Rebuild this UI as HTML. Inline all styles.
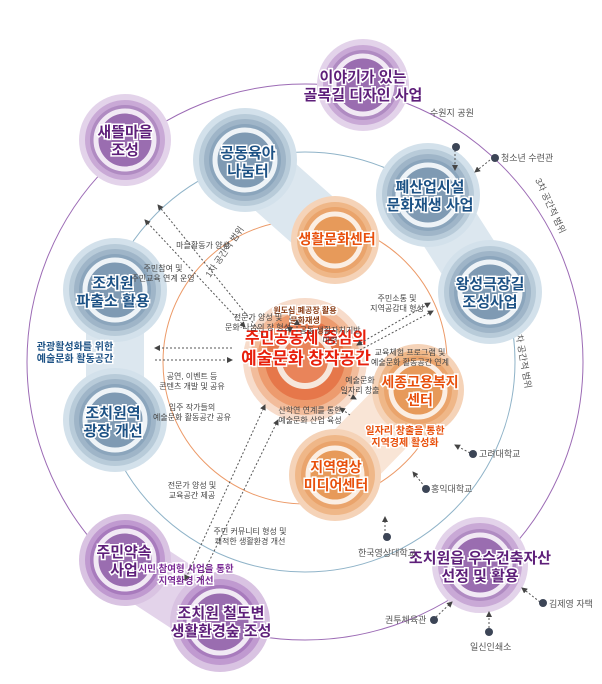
<!DOCTYPE html>
<html><head><meta charset="utf-8"><style>
html,body{margin:0;padding:0;background:#fff;}
svg{display:block;font-family:"Liberation Sans","Noto Sans CJK KR",sans-serif;}
.t{font-weight:bold;text-anchor:middle;paint-order:stroke;stroke:#fff;stroke-width:3px;}
.tb{fill:#1d5285;font-size:15px;}
.tp{fill:#5e1f7a;font-size:15px;}
.to{fill:#e8500c;font-size:14px;}
.s{font-size:8px;fill:#444;text-anchor:middle;}
.g{font-size:9px;fill:#555;}
.ar{stroke:#555;stroke-width:1;stroke-dasharray:2 2;fill:none;marker-end:url(#m);}
.ar2{stroke:#555;stroke-width:1;stroke-dasharray:2 2;fill:none;marker-end:url(#m);marker-start:url(#ms);}
</style></head><body>
<svg width="602" height="684" viewBox="0 0 602 684">
<defs>
<marker id="m" markerWidth="6" markerHeight="6" refX="5" refY="3" orient="auto"><path d="M0,0L6,3L0,6z" fill="#444"/></marker>
<marker id="ms" markerWidth="6" markerHeight="6" refX="1" refY="3" orient="auto"><path d="M6,0L0,3L6,6z" fill="#444"/></marker>
</defs>
<circle cx="305" cy="362" r="278" fill="none" stroke="#9c6bb5" stroke-width="1"/>
<circle cx="305" cy="362" r="210" fill="none" stroke="#8fb3c8" stroke-width="1"/>
<circle cx="305" cy="362" r="142" fill="none" stroke="#ec9a68" stroke-width="1"/>
<text class="g" fill="#999" font-size="8" transform="translate(210,278) rotate(-55)">1차 공간적 범위</text>
<text class="g" fill="#999" font-size="8" transform="translate(515,330) rotate(80)">2차 공간적 범위</text>
<text class="g" fill="#999" font-size="8" transform="translate(535,180) rotate(65)">3차 공간적 범위</text>
<g stroke-linecap="round" fill="none">
<line x1="245" y1="160" x2="335" y2="240" stroke="#dce7ef" stroke-width="62"/>
<line x1="428" y1="195" x2="490" y2="292" stroke="#dce7ef" stroke-width="62"/>
<line x1="115" y1="290" x2="115" y2="420" stroke="#dce7ef" stroke-width="58"/>
<line x1="418" y1="390" x2="335" y2="475" stroke="#f9e5d6" stroke-width="64"/>
<line x1="125" y1="560" x2="220" y2="622" stroke="#e3d3ea" stroke-width="64"/>
</g>
<g transform="translate(245,160)"><circle r="52" fill="#d3e1eb"/><circle r="46" fill="#b8cbd9"/><circle r="41" fill="#9fb5c8"/><circle r="36" fill="#8ba5bc"/><circle r="30" fill="#7f9ab3" stroke="#eef3f7" stroke-width="5"/></g>
<g transform="translate(428,195)"><circle r="52" fill="#d3e1eb"/><circle r="46" fill="#b8cbd9"/><circle r="41" fill="#9fb5c8"/><circle r="36" fill="#8ba5bc"/><circle r="30" fill="#7f9ab3" stroke="#eef3f7" stroke-width="5"/></g>
<g transform="translate(490,292)"><circle r="52" fill="#d3e1eb"/><circle r="46" fill="#b8cbd9"/><circle r="41" fill="#9fb5c8"/><circle r="36" fill="#8ba5bc"/><circle r="30" fill="#7f9ab3" stroke="#eef3f7" stroke-width="5"/></g>
<g transform="translate(115,290)"><circle r="52" fill="#d3e1eb"/><circle r="46" fill="#b8cbd9"/><circle r="41" fill="#9fb5c8"/><circle r="36" fill="#8ba5bc"/><circle r="30" fill="#7f9ab3" stroke="#eef3f7" stroke-width="5"/></g>
<g transform="translate(115,420)"><circle r="52" fill="#d3e1eb"/><circle r="46" fill="#b8cbd9"/><circle r="41" fill="#9fb5c8"/><circle r="36" fill="#8ba5bc"/><circle r="30" fill="#7f9ab3" stroke="#eef3f7" stroke-width="5"/></g>
<g transform="translate(363,85)"><circle r="46" fill="#e3d3ea"/><circle r="40" fill="#c9a9d6"/><circle r="35" fill="#b08bc2"/><circle r="29" fill="#9a6db0" stroke="#f1e9f4" stroke-width="5"/></g>
<g transform="translate(125,140)"><circle r="46" fill="#e3d3ea"/><circle r="40" fill="#c9a9d6"/><circle r="35" fill="#b08bc2"/><circle r="29" fill="#9a6db0" stroke="#f1e9f4" stroke-width="5"/></g>
<g transform="translate(125,560)"><circle r="46" fill="#d9c3e2"/><circle r="40" fill="#c09ad0"/><circle r="35" fill="#a87bbd"/><circle r="29" fill="#9a6db0" stroke="#f1e9f4" stroke-width="5"/></g>
<g transform="translate(220,622)"><circle r="50" fill="#d9c3e2"/><circle r="43" fill="#c09ad0"/><circle r="37" fill="#a87bbd"/><circle r="31" fill="#9a6db0" stroke="#f1e9f4" stroke-width="5"/></g>
<g transform="translate(480,565)"><circle r="48" fill="#e3d3ea"/><circle r="42" fill="#c9a9d6"/><circle r="36" fill="#b08bc2"/><circle r="30" fill="#9a6db0" stroke="#f1e9f4" stroke-width="5"/></g>
<g transform="translate(335,240)"><circle r="44" fill="#f5d3b8"/><circle r="38" fill="#efb788"/><circle r="33" fill="#eaa46c"/><circle r="26" fill="#e79a5a" stroke="#fbeee3" stroke-width="5"/></g>
<g transform="translate(418,390)"><circle r="46" fill="#f5d3b8"/><circle r="40" fill="#efb788"/><circle r="34" fill="#eaa46c"/><circle r="27" fill="#e79a5a" stroke="#fbeee3" stroke-width="5"/></g>
<g transform="translate(335,475)"><circle r="46" fill="#f5d3b8"/><circle r="40" fill="#efb788"/><circle r="34" fill="#eaa46c"/><circle r="27" fill="#e79a5a" stroke="#fbeee3" stroke-width="5"/></g>
<g transform="translate(305,360)"><circle r="62" fill="#f7dccb"/><circle r="55" fill="#f2bc9b"/><circle r="48" fill="#ed9b6e"/><circle r="40" fill="#e6774a"/><circle r="26" fill="#e9845a" stroke="#f6e7dc" stroke-width="6"/></g>
<text class="t tp" x="363" y="82">이야기가 있는</text><text class="t tp" x="363" y="100">골목길 디자인 사업</text>
<text class="t tp" x="125" y="137">새뜰마을</text><text class="t tp" x="125" y="155">조성</text>
<text class="t tb" x="248" y="158">공동육아</text><text class="t tb" x="248" y="176">나눔터</text>
<text class="t tb" x="430" y="192">폐산업시설</text><text class="t tb" x="430" y="210">문화재생 사업</text>
<text class="t tb" x="490" y="289">왕성극장길</text><text class="t tb" x="490" y="307">조성사업</text>
<text class="t tb" x="113" y="288">조치원</text><text class="t tb" x="113" y="306">파출소 활용</text>
<text class="t tb" x="113" y="418">조치원역</text><text class="t tb" x="113" y="436">광장 개선</text>
<text class="t to" x="337" y="244">생활문화센터</text>
<text class="t to" x="420" y="387">세종고용복지</text><text class="t to" x="420" y="405">센터</text>
<text class="t to" x="336" y="472">지역영상</text><text class="t to" x="336" y="490">미디어센터</text>
<text class="t tp" x="124" y="557">주민약속</text><text class="t tp" x="124" y="575">사업</text>
<text class="t tp" x="221" y="618">조치원 철도변</text><text class="t tp" x="221" y="636">생활환경숲 조성</text>
<text class="t tp" x="480" y="563">조치원읍 우수건축자산</text><text class="t tp" x="480" y="581">선정 및 활용</text>
<text class="t" x="305" y="313" font-size="8" fill="#8a3d16">원도심 폐공장 활용</text>
<text class="t" x="305" y="323" font-size="8" fill="#8a3d16">문화재생</text>
<text class="t" x="306" y="343" font-size="16" fill="#e8200c">주민공동체 중심의</text>
<text class="t" x="306" y="364" font-size="17" fill="#e8200c">예술문화 창작공간</text>
<text class="t" x="405" y="434" font-size="10" fill="#e8500c">일자리 창출을 통한</text>
<text class="t" x="405" y="446" font-size="10" fill="#e8500c">지역경제 활성화</text>
<text class="t" x="186" y="572" font-size="9.5" fill="#7a2a95">시민 참여형 사업을 통한</text>
<text class="t" x="186" y="584" font-size="9.5" fill="#7a2a95">지역환경 개선</text>
<text class="t" x="75" y="350" font-size="10" fill="#1d5285">관광활성화를 위한</text>
<text class="t" x="75" y="362" font-size="10" fill="#1d5285">예술문화 활동공간</text>
<path class="ar2" d="M145,220 L245,327"/>
<path class="ar" d="M263,335 L158,205"/>
<path class="ar" d="M290,310 L290,332"/>
<path class="ar" d="M297,332 L297,320"/>
<path class="ar2" d="M357,345 L430,303"/>
<path class="ar" d="M360,350 L433,311"/>
<path class="ar" d="M232,348 L155,348"/>
<path class="ar" d="M155,360 L232,360"/>
<path class="ar2" d="M265,405 L185,580"/>
<path class="ar" d="M200,580 L278,420"/>
<path class="ar" d="M345,393 L356,399"/>
<path class="ar" d="M350,415 L340,408"/>
<path class="ar" d="M455,150 L455,170"/>
<path class="ar" d="M490,160 L475,172"/>
<path class="ar" d="M470,453 L455,445"/>
<path class="ar" d="M425,487 L413,472"/>
<path class="ar" d="M385,535 L385,517"/>
<path class="ar" d="M436,617 L452,602"/>
<path class="ar" d="M489,628 L489,612"/>
<path class="ar" d="M540,602 L522,588"/>
<text class="s" x="203" y="248">마을활동가 양성</text>
<text class="s" x="163" y="271">주민참여 및</text><text class="s" x="163" y="281">주민교육 연계 운영</text>
<text class="s" x="258" y="320">전문가 양성 및</text><text class="s" x="258" y="330">문화·나눔의 장 형성</text>
<text class="s" x="330" y="333">공동 생활자치기반</text><text class="s" x="330" y="343">마련</text>
<text class="s" x="397" y="301">주민소통 및</text><text class="s" x="397" y="311">지역공감대 형성</text>
<text class="s" x="410" y="355">교육체험 프로그램 및</text><text class="s" x="410" y="365">예술문화 활동공간 연계</text>
<text class="s" x="192" y="379">공연, 이벤트 등</text><text class="s" x="192" y="389">콘텐츠 개발 및 공유</text>
<text class="s" x="192" y="410">입주 작가들의</text><text class="s" x="192" y="420">예술문화 활동공간 공유</text>
<text class="s" x="360" y="383">예술문화</text><text class="s" x="360" y="393">일자리 창출</text>
<text class="s" x="310" y="413">산학연 연계를 통한</text><text class="s" x="310" y="423">예술문화 산업 육성</text>
<text class="s" x="192" y="488">전문가 양성 및</text><text class="s" x="192" y="498">교육공간 제공</text>
<text class="s" x="250" y="534">주민 커뮤니티 형성 및</text><text class="s" x="250" y="544">쾌적한 생활환경 개선</text>
<g fill="#3c4556">
<circle cx="456" cy="147" r="4"/><circle cx="495" cy="158" r="4"/><circle cx="473" cy="454" r="4"/><circle cx="426" cy="489" r="4"/><circle cx="387" cy="537" r="4"/><circle cx="543" cy="603" r="4"/><circle cx="434" cy="620" r="4"/><circle cx="489" cy="632" r="4"/>
</g>
<text class="g" x="430" y="116">수원지 공원</text>
<text class="g" x="501" y="161">청소년 수련관</text>
<text class="g" x="479" y="457">고려대학교</text>
<text class="g" x="431" y="492">홍익대학교</text>
<text class="g" x="358" y="556">한국영상대학교</text>
<text class="g" x="549" y="607">김제영 자택</text>
<text class="g" x="385" y="623">권투체육관</text>
<text class="g" x="470" y="650">일신인쇄소</text>
</svg>
</body></html>
